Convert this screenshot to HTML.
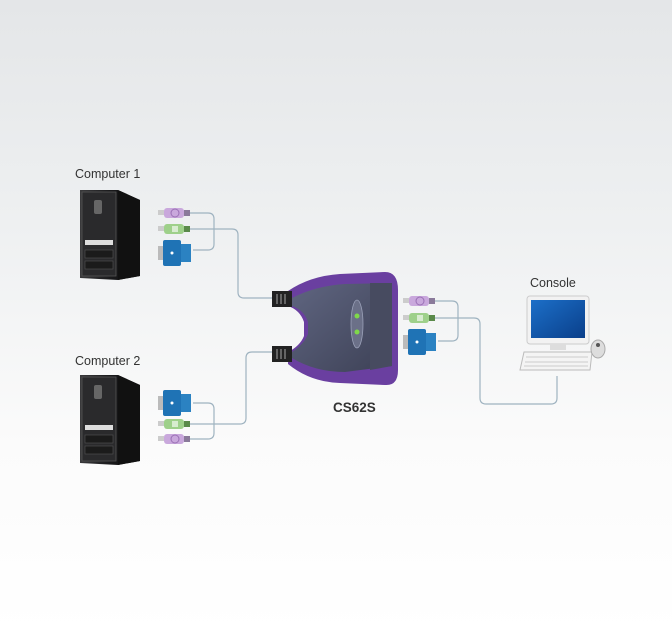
<!DOCTYPE html>
<html><head><style>
html,body{margin:0;padding:0;}
body{width:672px;height:635px;overflow:hidden;background:linear-gradient(#e4e6e8 0%,#eef0f1 35%,#fbfbfb 70%,#fff 100%);}
svg{display:block}
text{font-family:"Liberation Sans",sans-serif;}
</style></head><body>
<svg width="672" height="635" viewBox="0 0 672 635">
<defs>
<linearGradient id="tw" x1="0" x2="1"><stop offset="0" stop-color="#3a3a3c"/><stop offset="0.5" stop-color="#1a1a1c"/><stop offset="1" stop-color="#0c0c0d"/></linearGradient>
<linearGradient id="sw" x1="0" y1="0" x2="1" y2="1"><stop offset="0" stop-color="#5f6580"/><stop offset="1" stop-color="#3d4156"/></linearGradient>
<linearGradient id="scr" x1="0" y1="0" x2="1" y2="1"><stop offset="0" stop-color="#1c6fc8"/><stop offset="1" stop-color="#0a3f8a"/></linearGradient>
<g id="tower">
<polygon points="0,0 38,0 60,10 60,86 38,90 0,88" fill="url(#tw)"/>
<polygon points="38,0 60,10 60,86 38,90" fill="#111"/>
<rect x="2" y="2" width="34" height="84" fill="#2a2a2c" stroke="#555" stroke-width="0.8"/>
<rect x="14" y="10" width="8" height="14" rx="2" fill="#666"/>
<rect x="5" y="50" width="28" height="5" fill="#ddd"/>
<rect x="5" y="60" width="28" height="8" fill="#1b1b1b" stroke="#555" stroke-width="0.6"/>
<rect x="5" y="71" width="28" height="8" fill="#1b1b1b" stroke="#555" stroke-width="0.6"/>
</g>
<g id="ps2p"><rect x="0" y="2" width="6" height="5" fill="#ccc"/><rect x="6" y="0" width="20" height="10" rx="3" fill="#c9a8dc"/><circle cx="17" cy="5" r="4" fill="none" stroke="#9a70b5"/><rect x="26" y="2" width="6" height="6" fill="#8a7a9a"/></g>
<g id="ps2g"><rect x="0" y="2" width="6" height="5" fill="#ccc"/><rect x="6" y="0" width="20" height="10" rx="3" fill="#9ed08a"/><rect x="14" y="2" width="6" height="6" fill="#fff" opacity=".6"/><rect x="26" y="2" width="6" height="6" fill="#5a8a4a"/></g>
<g id="vga"><rect x="0" y="6" width="6" height="14" fill="#bbb"/><rect x="5" y="0" width="18" height="26" rx="2" fill="#1f73b5"/><rect x="23" y="4" width="10" height="18" fill="#2b82c2"/><circle cx="14" cy="13" r="1.5" fill="#fff"/></g>
</defs>
<text x="75" y="178" font-size="12.5" fill="#333">Computer 1</text>
<text x="75" y="365" font-size="12.5" fill="#333">Computer 2</text>
<text x="530" y="287" font-size="12.5" fill="#333">Console</text>
<text x="333" y="412" font-size="13.5" font-weight="bold" fill="#333">CS62S</text>
<use href="#tower" x="80" y="190"/>
<use href="#tower" x="80" y="375"/>
<g fill="none" stroke="#9fb3c0" stroke-width="1.2">
<path d="M190,213 H208 Q214,213 214,219 V244 Q214,250 208,250 H193"/>
<path d="M190,229 H232 Q238,229 238,235 V292 Q238,298 244,298 H272"/>
<path d="M193,403 H208 Q214,403 214,409 V433 Q214,439 208,439 H190"/>
<path d="M190,424 H240 Q246,424 246,418 V358 Q246,352 252,352 H272"/>
<path d="M435,301 H452 Q458,301 458,307 V335 Q458,341 452,341 H438"/>
<path d="M435,318 H474 Q480,318 480,324 V398 Q480,404 486,404 H551 Q557,404 557,398 V376"/>
</g>
<use href="#ps2p" x="158" y="208"/><use href="#ps2g" x="158" y="224"/><use href="#vga" x="158" y="240"/>
<use href="#vga" x="158" y="390"/><use href="#ps2g" x="158" y="419"/><use href="#ps2p" x="158" y="434"/>
<use href="#ps2p" x="403" y="296"/><use href="#ps2g" x="403" y="313"/><use href="#vga" x="403" y="329"/>
<!-- switch -->
<path d="M288,291 Q310,276 340,274 L385,272 Q398,272 398,290 V370 Q398,386 385,385 L340,383 Q310,382 288,364 L288,352 Q300,346 304,336 L304,322 Q300,310 288,306 Z" fill="#6a3fa0"/>
<path d="M292,298 Q315,286 345,284 L392,283 V366 L345,372 Q315,372 292,358 L292,352 Q304,344 308,334 L308,322 Q304,310 292,306 Z" fill="url(#sw)"/>
<path d="M370,283 L392,283 V366 L370,370 Z" fill="#474b60"/>
<ellipse cx="357" cy="324" rx="6" ry="24" fill="#6b7088" stroke="#9aa0b8" stroke-width="0.8"/>
<circle cx="357" cy="316" r="2.5" fill="#7fd84a"/><circle cx="357" cy="332" r="2.5" fill="#7fd84a"/>
<rect x="272" y="291" width="20" height="16" fill="#222"/>
<rect x="272" y="346" width="20" height="16" fill="#222"/>
<g stroke="#888" stroke-width="1.3"><path d="M277,294v10M281,294v10M285,294v10M277,349v10M281,349v10M285,349v10"/></g>
<!-- console -->
<rect x="527" y="296" width="62" height="48" rx="3" fill="#f2f2f2" stroke="#ccc"/>
<rect x="531" y="300" width="54" height="38" fill="url(#scr)"/>
<rect x="550" y="344" width="16" height="6" fill="#ddd"/>
<polygon points="524,352 592,352 590,370 520,370" fill="#f4f4f4" stroke="#bbb"/>
<g stroke="#ccc" stroke-width="1"><path d="M526,357h62M525,362h63M524,366h64"/></g>
<ellipse cx="598" cy="349" rx="7" ry="9" fill="#ddd" stroke="#aaa"/>
<circle cx="598" cy="345" r="2" fill="#555"/>
</svg>
</body></html>
